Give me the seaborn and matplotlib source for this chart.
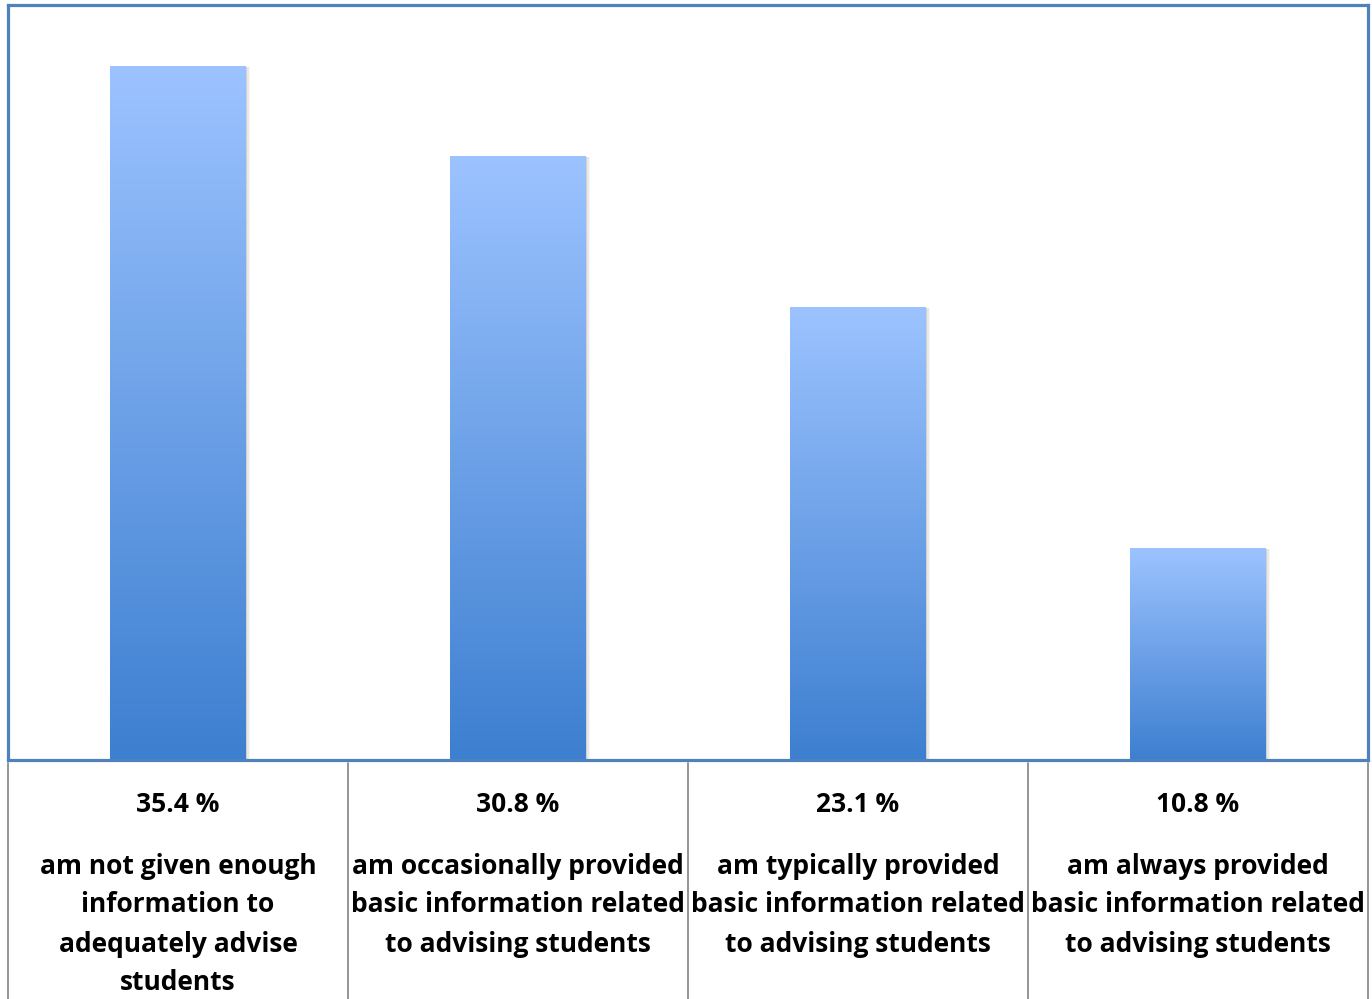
import numpy as np
import pandas as pd
import matplotlib.pyplot as plt
import matplotlib.transforms as mtransforms
from matplotlib.colors import LinearSegmentedColormap
import seaborn as sns

# data
categories = [
    "am not given enough\ninformation to\nadequately advise\nstudents",
    "am occasionally provided\nbasic information related\nto advising students",
    "am typically provided\nbasic information related\nto advising students",
    "am always provided\nbasic information related\nto advising students",
]
values = [35.4, 30.8, 23.1, 10.8]

W, H = 1372, 999
frame_col = "#4F81BD"
grad = LinearSegmentedColormap.from_list("bar", ["#3D7FD0", "#9CC3FF"])

sns.set_theme(style="white")
plt.rcParams["font.family"] = ["Open Sans", "DejaVu Sans"]

fig = plt.figure(figsize=(W / 100, H / 100), dpi=100)
ax = fig.add_axes([8 / W, (H - 760) / H, 1360 / W, 755 / H])

df = pd.DataFrame({"cat": categories, "val": values})
sns.barplot(data=df, x="cat", y="val", width=0.4, color="#6FA0E8", ax=ax)

ylim = (0, 755 / 19.6)
gradient = np.linspace(0, 1, 256).reshape(-1, 1)
for p in ax.patches:
    x0, w, h = p.get_x(), p.get_width(), p.get_height()
    # soft shadow on the right side
    for k, a in enumerate([0.10, 0.06, 0.03]):
        sh = plt.Rectangle((x0 + w, 0), 0.004 * (k + 1), h - 0.05, color="black",
                           alpha=a, lw=0, zorder=1)
        ax.add_patch(sh)
    im = ax.imshow(gradient, cmap=grad, origin="lower", aspect="auto",
                   extent=(x0, x0 + w, 0, h), zorder=2)
    im.set_clip_path(p)
    p.set_facecolor("none")
    p.set_edgecolor("none")

ax.set_xlim(-0.5, len(values) - 0.5)
ax.set_ylim(*ylim)
ax.set_xticks([])
ax.set_yticks([])
ax.set_xlabel("")
ax.set_ylabel("")
for s in ax.spines.values():
    s.set_visible(True)
    s.set_color(frame_col)
    s.set_linewidth(2.3)

# table-style labels below the plot
trans = mtransforms.blended_transform_factory(ax.transData, ax.transAxes)
px = 1 / 755
for xi in np.arange(-0.5, len(values), 1.0):
    ax.plot([xi, xi], [-3 * px, -245 * px], color="#8C8C8C", lw=1.3,
            transform=trans, clip_on=False)

for i, (lab, v) in enumerate(zip(categories, values)):
    ax.text(i, -45 * px, f"{v} %", transform=trans, ha="center", va="center",
            fontsize=19, fontweight="bold", color="black")
    for j, line in enumerate(lab.split("\n")):
        ax.text(i, -(106 + 39 * j) * px, line, transform=trans, ha="center",
                va="center", fontsize=19, fontweight="bold", color="black")

fig.savefig("out.png", dpi=100)
